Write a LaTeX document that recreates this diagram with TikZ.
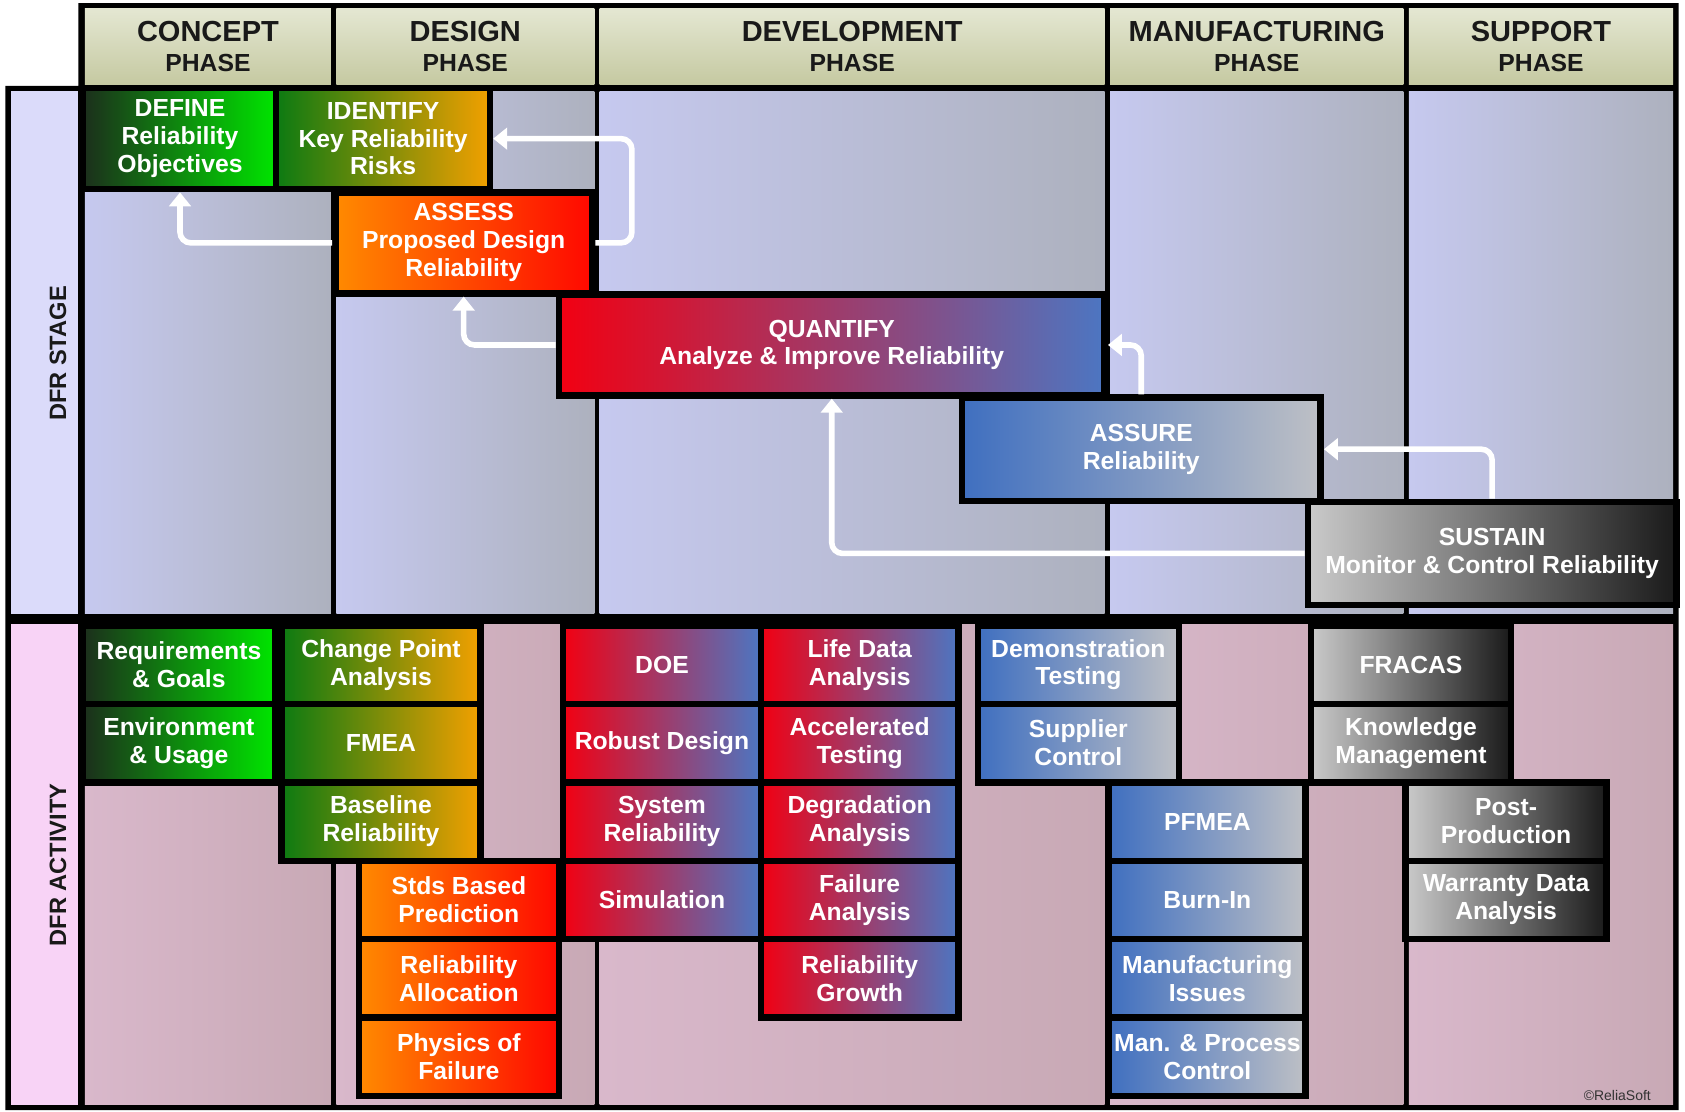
\documentclass[tikz,border=0pt]{standalone}
\usepackage{fontspec}
\setmainfont{Liberation Sans}
\usetikzlibrary{arrows.meta}

\definecolor{headtop}{HTML}{E4E7D2}
\definecolor{headbot}{HTML}{C5C9A1}
\definecolor{stagel}{HTML}{C6C9EF}
\definecolor{stager}{HTML}{ADB1BE}
\definecolor{actl}{HTML}{D9B8CB}
\definecolor{actr}{HTML}{C8A9B5}
\definecolor{stagelbl}{HTML}{DBDBFA}
\definecolor{actlbl}{HTML}{F8D3F6}
\definecolor{grnl}{HTML}{1C2E1C}
\definecolor{grnr}{HTML}{00E600}
\definecolor{limel}{HTML}{0C7A12}
\definecolor{limer}{HTML}{F2A000}
\definecolor{orgl}{HTML}{FF8A00}
\definecolor{orgr}{HTML}{FF0800}
\definecolor{redl}{HTML}{F20012}
\definecolor{redr}{HTML}{4C76C2}
\definecolor{blul}{HTML}{3F6FC0}
\definecolor{blur}{HTML}{BEC0C5}
\definecolor{gryl}{HTML}{CACACA}
\definecolor{gryr}{HTML}{1A1A1A}

\tikzset{
    % frames of the stage and activity boxes
    stagebox/.style={draw=black, line width=3pt, inner sep=0pt, align=center,
        text=white, font=\fontsize{11.5}{13}\selectfont\bfseries, minimum height=47pt},
    actbox/.style={draw=black, line width=3pt, inner sep=0pt, align=center,
        text=white, font=\fontsize{11.5}{13}\selectfont\bfseries, minimum height=36.5pt},
    headcell/.style={inner sep=0pt, align=center, top color=headtop, bottom color=headbot,
        minimum height=35.5pt, text=black!90, font=\fontsize{13.5}{14}\selectfont\bfseries},
    sidelabel/.style={rotate=90, text=black!90, font=\fontsize{11}{12}\selectfont\bfseries},
    % colour runs, left to right
    greenfade/.style={left color=grnl, right color=grnr},
    limefade/.style={left color=limel, right color=limer},
    orangefade/.style={left color=orgl, right color=orgr},
    redfade/.style={left color=redl, right color=redr},
    bluefade/.style={left color=blul, right color=blur},
    grayfade/.style={left color=gryl, right color=gryr},
    flow/.style={draw=white, line width=2.6pt, rounded corners=5pt,
        -{Triangle[width=10pt,length=6.5pt]}},
}

\begin{document}
\begin{tikzpicture}[x=0.5pt,y=0.5pt,yscale=-1]
\path[use as bounding box] (0,0) rectangle (1568,1034);
\fill[white] (0,0) rectangle (1568,1034);

%Shape: table frame
\fill[black] (73,3) -- (1562,3) -- (1562,1033) -- (5,1033) -- (5,80) -- (73,80) -- cycle;

%Shape: side label cells
\fill[stagelbl] (10,85) rectangle (73,571);
\fill[actlbl] (10,581) rectangle (73,1028);

%Shape: stage columns
\shade[left color=stagel, right color=stager] (79,85) rectangle (308,571);
\shade[left color=stagel, right color=stager] (313,85) rectangle (553,571);
\shade[left color=stagel, right color=stager] (558,85) rectangle (1028,571);
\shade[left color=stagel, right color=stager] (1033,85) rectangle (1306,571);
\shade[left color=stagel, right color=stager] (1311,85) rectangle (1557,571);

%Shape: activity columns
\shade[left color=actl, right color=actr] (79,581) rectangle (308,1028);
\shade[left color=actl, right color=actr] (313,581) rectangle (553,1028);
\shade[left color=actl, right color=actr] (558,581) rectangle (1028,1028);
\shade[left color=actl, right color=actr] (1033,581) rectangle (1306,1028);
\shade[left color=actl, right color=actr] (1311,581) rectangle (1557,1028);

% Header Nodes
\node[headcell, minimum width=114.5pt] (concept) at (193.5,43.5) {CONCEPT\\{\fontsize{11.5}{14}\selectfont PHASE}};
\node[headcell, minimum width=120pt] (design) at (433,43.5) {DESIGN\\{\fontsize{11.5}{14}\selectfont PHASE}};
\node[headcell, minimum width=235pt] (development) at (793,43.5) {DEVELOPMENT\\{\fontsize{11.5}{14}\selectfont PHASE}};
\node[headcell, minimum width=136.5pt] (manufacturing) at (1169.5,43.5) {MANUFACTURING\\{\fontsize{11.5}{14}\selectfont PHASE}};
\node[headcell, minimum width=123pt] (support) at (1434,43.5) {SUPPORT\\{\fontsize{11.5}{14}\selectfont PHASE}};

% Text Node
\node[sidelabel] (stagelabel) at (54,329) {DFR STAGE};
% Text Node
\node[sidelabel] (activitylabel) at (54,805) {DFR ACTIVITY};

% Stage Nodes
\node[stagebox, greenfade, minimum width=90.5pt] (define) at (167.5,129) {DEFINE\\Reliability\\Objectives};
\node[stagebox, limefade, minimum width=99.5pt] (identify) at (356.5,129) {IDENTIFY\\Key Reliability\\Risks};
\node[stagebox, orangefade, minimum width=119.5pt] (assess) at (431.5,226) {ASSESS\\Proposed Design\\Reliability};
\node[stagebox, redfade, minimum width=254pt] (quantify) at (774,321) {QUANTIFY\\Analyze \& Improve Reliability};
\node[stagebox, bluefade, minimum width=167pt, minimum height=48pt] (assure) at (1062,418) {ASSURE\\Reliability};
\node[stagebox, grayfade, minimum width=171.5pt, minimum height=48pt] (sustain) at (1388.5,515) {SUSTAIN\\Monitor \& Control Reliability};

%Straight Lines: stage feedback
\draw[flow] (assess.west) -| (define.south);
\draw[flow] (assess.east) -- ++(34,0) |- (identify.east);
\draw[flow] (quantify.west) -| (assess.south);
\draw[flow] (assure.north) |- (quantify.east);
\draw[flow] (sustain.north) |- (assure.east);
\draw[flow] (sustain.west) -| (quantify.south);

% Activity Nodes: concept
\node[actbox, greenfade, minimum width=89.5pt] (reqgoals) at (166.5,618.5) {Requirements\\\& Goals};
\node[actbox, greenfade, minimum width=89.5pt] (envusage) at (166.5,691.5) {Environment\\\& Usage};

% Activity Nodes: design
\node[actbox, limefade, minimum width=92.5pt] (changept) at (354.5,618.5) {Change Point\\Analysis};
\node[actbox, limefade, minimum width=92.5pt] (fmea) at (354.5,691.5) {FMEA};
\node[actbox, limefade, minimum width=92.5pt] (baseline) at (354.5,764.5) {Baseline\\Reliability};
\node[actbox, orangefade, minimum width=93pt] (stdspred) at (427,837.5) {Stds Based\\Prediction};
\node[actbox, orangefade, minimum width=93pt] (relalloc) at (427,910.5) {Reliability\\Allocation};
\node[actbox, orangefade, minimum width=93pt] (physfail) at (427,983.5) {Physics of\\Failure};

% Activity Nodes: development
\node[actbox, redfade, minimum width=92pt] (doe) at (616,618.5) {DOE};
\node[actbox, redfade, minimum width=92pt] (robust) at (616,691.5) {Robust Design};
\node[actbox, redfade, minimum width=92pt] (sysrel) at (616,764.5) {System\\Reliability};
\node[actbox, redfade, minimum width=92pt] (simul) at (616,837.5) {Simulation};
\node[actbox, redfade, minimum width=92pt] (lifedata) at (800,618.5) {Life Data\\Analysis};
\node[actbox, redfade, minimum width=92pt] (acctest) at (800,691.5) {Accelerated\\Testing};
\node[actbox, redfade, minimum width=92pt] (degrad) at (800,764.5) {Degradation\\Analysis};
\node[actbox, redfade, minimum width=92pt] (failan) at (800,837.5) {Failure\\Analysis};
\node[actbox, redfade, minimum width=92pt] (relgrowth) at (800,910.5) {Reliability\\Growth};

% Activity Nodes: manufacturing
\node[actbox, bluefade, minimum width=93.5pt] (demotest) at (1003.5,618.5) {Demonstration\\Testing};
\node[actbox, bluefade, minimum width=93.5pt] (supplier) at (1003.5,691.5) {Supplier\\Control};
\node[actbox, bluefade, minimum width=91.5pt] (pfmea) at (1123.5,764.5) {PFMEA};
\node[actbox, bluefade, minimum width=91.5pt] (burnin) at (1123.5,837.5) {Burn-In};
\node[actbox, bluefade, minimum width=91.5pt] (mfgissues) at (1123.5,910.5) {Manufacturing\\Issues};
\node[actbox, bluefade, minimum width=91.5pt] (procctrl) at (1123.5,983.5) {Man. \& Process\\Control};

% Activity Nodes: support
\node[actbox, grayfade, minimum width=93pt] (fracas) at (1313,618.5) {FRACAS};
\node[actbox, grayfade, minimum width=93pt] (knowledge) at (1313,691.5) {Knowledge\\Management};
\node[actbox, grayfade, minimum width=93.5pt] (postprod) at (1401.5,764.5) {Post-\\Production};
\node[actbox, grayfade, minimum width=93.5pt] (warranty) at (1401.5,837.5) {Warranty Data\\Analysis};

% Text Node
\node[text=black!80, font=\fontsize{6.5}{7}\selectfont] (copyright) at (1505,1019) {©ReliaSoft};

\end{tikzpicture}
\end{document}
